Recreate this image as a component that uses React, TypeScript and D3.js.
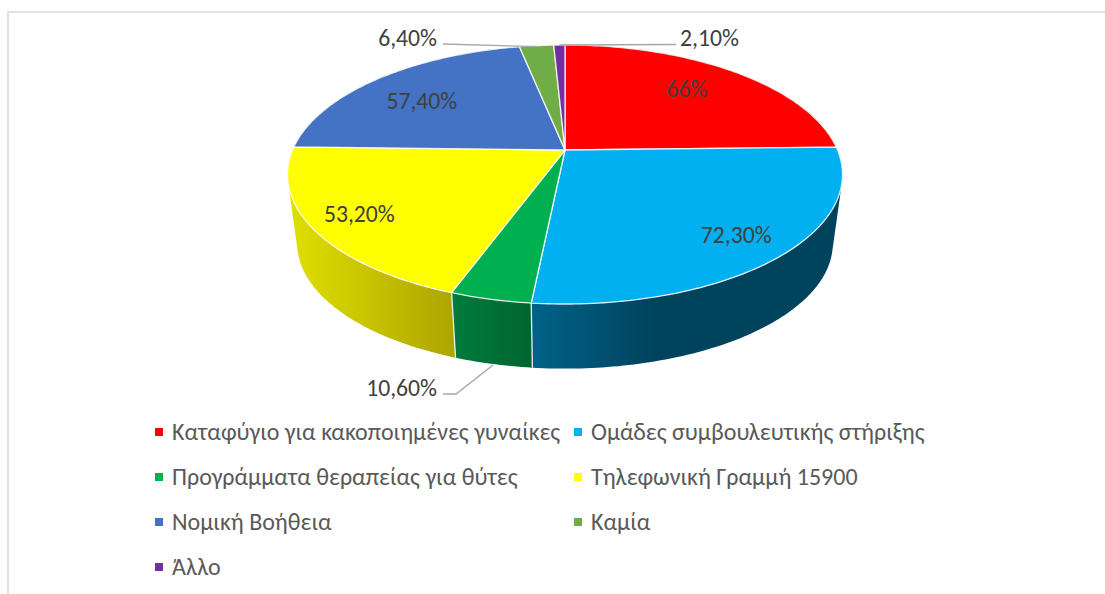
import * as d3 from "d3";

const categories = [
  "Καταφύγιο για κακοποιημένες γυναίκες",
  "Ομάδες συμβουλευτικής στήριξης",
  "Προγράμματα θεραπείας για θύτες",
  "Τηλεφωνική Γραμμή 15900",
  "Νομική Βοήθεια",
  "Καμία",
  "Άλλο",
];
const values = [66, 72.3, 10.6, 53.2, 57.4, 6.4, 2.1];
const valueLabels = ["66%", "72,30%", "10,60%", "53,20%", "57,40%", "6,40%", "2,10%"];
const topColors = ["#ff0000", "#00b0f0", "#00b050", "#ffff00", "#4472c4", "#70ad47", "#7030a0"];
const sideColors = [
  ["#990000", "#990000"],
  ["#006289", "#00435d"],
  ["#007c3d", "#00652f"],
  ["#e0e000", "#aea600"],
  ["#2a4a80", "#2a4a80"],
  ["#44692b", "#44692b"],
  ["#431d60", "#431d60"],
];

const W = 1105;
const H = 594;
const FONT = "Carlito, Calibri, Lato, 'Open Sans', sans-serif";

// perspective of the disc: circle -> ellipse with the apex above the ellipse centre
const cx = 565;
const cy = 150;
const a = 272.5;
const b = 124.9;
const k = 0.189;
const depth = 70;
const shrink = 0.965;

const top = (t: number, r = 1): [number, number] => {
  const u = Math.sin(t) * r;
  const v = -Math.cos(t) * r;
  return [cx + (a * u) / (1 - k * v), cy + (b * v) / (1 - k * v)];
};
const bottom = (t: number): [number, number] => {
  const [x, y] = top(t);
  return [cx + shrink * (x - cx), cy + depth + shrink * (y - cy)];
};
const samples = (s: number, e: number) => {
  const n = Math.max(2, Math.ceil((e - s) * 60));
  return d3.range(n + 1).map((i) => s + ((e - s) * i) / n);
};

const slices = d3.pie<number>().sort(null).value((d) => d)(values);
const color = d3.scaleOrdinal<number, string>().domain(d3.range(values.length)).range(topColors);
const line = d3.line();

// side wall as quads between the two rims, all wound the same way so the silhouette fills
const wall = (s: number, e: number) => {
  const ts = samples(s, e);
  return d3.pairs(ts)
    .map(([t0, t1]) => {
      const q = [top(t0), top(t1), bottom(t1), bottom(t0)];
      if (d3.polygonArea(q) < 0) q.reverse();
      return line(q) + "Z";
    })
    .join("");
};

// inside labels: [radius share, dx, dy] from the mid angle of the slice
const insideLabels: Record<number, [number, number, number]> = {
  0: [0.72, -3, -3],
  1: [0.82, 0, 0],
  3: [0.72, -30, 9],
  4: [0.72, -5, 4],
};

const mid = (i: number) => (slices[i].startAngle + slices[i].endAngle) / 2;

const legendX = d3.scaleOrdinal<number, number>().domain([0, 1]).range([155, 574]);
const legendY = d3.scaleLinear().domain([0, 3]).range([432, 567]);

export default function App() {
  const leader = "#a6a6a6";
  const g = top(mid(5));
  const p = top(mid(6));
  const gr = bottom(mid(2));
  return (
    <svg width={W} height={H} style={{ position: "absolute", left: 0, top: 0 }} fontFamily={FONT}>
      <rect width={W} height={H} fill="#fff" />
      <path d={`M8,${H}V12H${W}`} fill="none" stroke="#d9d9d9" strokeWidth={1.5} />
      <defs>
        {slices.map((s, i) => {
          const xs = samples(s.startAngle, s.endAngle).map((t) => top(t)[0]);
          const [x0, x1] = d3.extent(xs) as [number, number];
          return (
            <linearGradient key={i} id={`side${i}`} gradientUnits="userSpaceOnUse" x1={x0} x2={x1} y1={0} y2={0}>
              <stop offset={0} stopColor={sideColors[i][0]} />
              <stop offset={i === 1 ? 0.4 : 1} stopColor={sideColors[i][1]} />
            </linearGradient>
          );
        })}
      </defs>
      {slices.map((s, i) => (
        <path key={i} d={wall(s.startAngle, s.endAngle)} fill={`url(#side${i})`} />
      ))}
      {slices
        .filter((s) => Math.cos(s.startAngle) < -0.3)
        .map((s, i) => (
          <path key={i} d={line([top(s.startAngle), bottom(s.startAngle)]) as string} stroke="#e8eef0" strokeWidth={1.3} fill="none" />
        ))}
      {slices.map((s, i) => {
        const pts = samples(s.startAngle, s.endAngle).map((t) => top(t));
        return (
          <path
            key={i}
            d={line([[cx, cy], ...pts]) + "Z"}
            fill={color(i)}
            stroke="#fff"
            strokeOpacity={0.85}
            strokeWidth={1.3}
            strokeLinejoin="round"
          />
        );
      })}
      {Object.entries(insideLabels).map(([key, [r, dx, dy]]) => {
        const i = +key;
        const [x, y] = top(mid(i), r);
        return (
          <text key={i} x={x + dx} y={y + dy} dy="0.35em" textAnchor="middle" fontSize={23.7} fill="#404040">
            {valueLabels[i]}
          </text>
        );
      })}
      <path d={line([[443, 44], [g[0], g[1] + 1]]) as string} stroke={leader} strokeWidth={1.3} fill="none" />
      <path d={line([[p[0], p[1]], [676, 44.5]]) as string} stroke={leader} strokeWidth={1.3} fill="none" />
      <path d={line([[443, 394], [456, 394], [gr[0], gr[1] + 1]]) as string} stroke={leader} strokeWidth={1.3} fill="none" />
      <text x={437} y={38} dy="0.35em" textAnchor="end" fontSize={23.7} fill="#404040">{valueLabels[5]}</text>
      <text x={680} y={38} dy="0.35em" fontSize={23.7} fill="#404040">{valueLabels[6]}</text>
      <text x={437} y={388} dy="0.35em" textAnchor="end" fontSize={23.7} fill="#404040">{valueLabels[2]}</text>
      {categories.map((c, i) => {
        const x = legendX(i % 2);
        const y = legendY(Math.floor(i / 2));
        return (
          <g key={c}>
            <rect x={x} y={y - 4} width={8} height={8} fill={color(i)} />
            <text x={x + 17} y={y} dy="0.35em" fontSize={24} fill="#595959">{c}</text>
          </g>
        );
      })}
    </svg>
  );
}
